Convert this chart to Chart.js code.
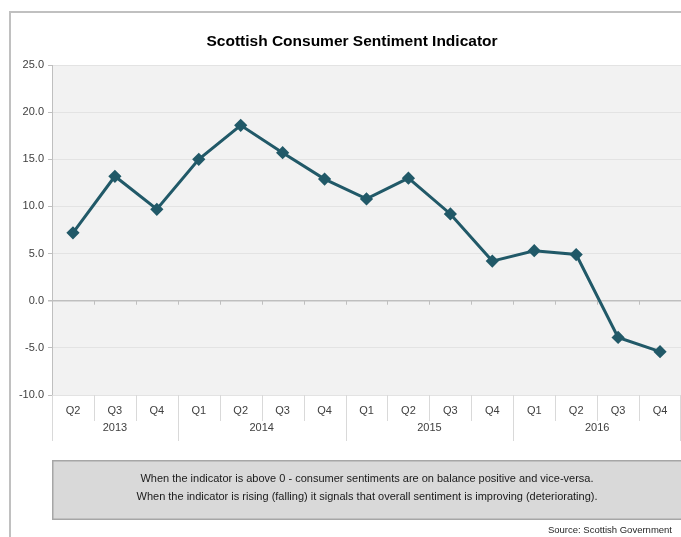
<!DOCTYPE html>
<html>
<head>
<meta charset="utf-8">
<script src="https://cdn.jsdelivr.net/npm/chart.js@4/dist/chart.umd.min.js"></script>
<style>
  html, body { margin: 0; padding: 0; background: #fff; }
  canvas { display: block; }
</style>
</head>
<body>
<canvas id="sentimentChart" width="681" height="537"></canvas>
<script>
// datos del gráfico
const quarters = ["Q2", "Q3", "Q4", "Q1", "Q2", "Q3", "Q4", "Q1", "Q2", "Q3", "Q4", "Q1", "Q2", "Q3", "Q4"];
const years = ["2013", "2014", "2015", "2016"];
const quartersPerYear = [3, 4, 4, 4];
const sentiment = [7.2, 13.2, 9.7, 15.0, 18.6, 15.7, 12.9, 10.8, 13.0, 9.2, 4.2, 5.3, 4.9, -3.9, -5.4];
const titleText = "Scottish Consumer Sentiment Indicator";
const noteLines = [
  "When the indicator is above 0 - consumer sentiments are on balance positive and vice-versa.",
  "When the indicator is rising (falling) it signals that overall sentiment is improving (deteriorating)."
];
const sourceText = "Source: Scottish Government";

const FONT = "'Liberation Sans', Arial, sans-serif";

// fondo, marco, título y área del gráfico
const framePlugin = {
  id: "frame",
  beforeDraw(chart) {
    const { ctx, chartArea: a } = chart;
    ctx.save();
    ctx.fillStyle = "#ffffff";
    ctx.fillRect(0, 0, chart.width, chart.height);
    ctx.strokeStyle = "#c0c0c0";
    ctx.lineWidth = 2;
    ctx.beginPath();
    ctx.moveTo(10, chart.height);
    ctx.lineTo(10, 12);
    ctx.lineTo(chart.width, 12);
    ctx.stroke();
    ctx.fillStyle = "#f2f2f2";
    ctx.fillRect(a.left, a.top, a.width, a.height);
    // título
    ctx.fillStyle = "#000000";
    ctx.font = "bold 15.5px " + FONT;
    ctx.textAlign = "center";
    ctx.textBaseline = "middle";
    ctx.fillText(titleText, 352, 42);
    ctx.restore();
  },
  beforeDatasetsDraw(chart) {
    // marcas pequeñas bajo la línea del cero
    const { ctx, scales } = chart;
    const x = scales.x, y0 = scales.y.getPixelForValue(0);
    ctx.save();
    ctx.strokeStyle = "#bfbfbf";
    ctx.lineWidth = 1;
    for (let i = 1; i < quarters.length; i++) {
      const px = Math.round((x.getPixelForValue(i) + x.getPixelForValue(i - 1)) / 2) + 0.5;
      ctx.beginPath();
      ctx.moveTo(px, y0);
      ctx.lineTo(px, y0 + 4);
      ctx.stroke();
    }
    ctx.restore();
  },
  afterDraw(chart) {
    const { ctx, chartArea: a, scales } = chart;
    const x = scales.x;
    ctx.save();
    // separadores de trimestres y años
    ctx.strokeStyle = "#d9d9d9";
    ctx.lineWidth = 1;
    const starts = [];
    let s = 0;
    quartersPerYear.forEach((n) => { starts.push(s); s += n; });
    for (let i = 0; i <= quarters.length; i++) {
      let px;
      if (i === 0) px = a.left;
      else if (i === quarters.length) px = a.right - 1;
      else px = (x.getPixelForValue(i) + x.getPixelForValue(i - 1)) / 2;
      px = Math.round(px) + 0.5;
      const isYear = i === 0 || i === quarters.length || starts.includes(i);
      ctx.beginPath();
      ctx.moveTo(px, a.bottom);
      ctx.lineTo(px, a.bottom + (isYear ? 46 : 26));
      ctx.stroke();
    }
    // etiquetas de año
    ctx.fillStyle = "#404040";
    ctx.font = "11px " + FONT;
    ctx.textAlign = "center";
    ctx.textBaseline = "middle";
    years.forEach((yr, k) => {
      const first = starts[k], last = starts[k] + quartersPerYear[k] - 1;
      const cx = (x.getPixelForValue(first) + x.getPixelForValue(last)) / 2;
      ctx.fillText(yr, cx, a.bottom + 33);
    });
    // recuadro de nota
    const boxTop = 460, boxH = 60;
    ctx.fillStyle = "#d9d9d9";
    ctx.fillRect(a.left, boxTop, chart.width - a.left, boxH);
    ctx.strokeStyle = "#a6a6a6";
    ctx.lineWidth = 1.5;
    ctx.strokeRect(a.left + 0.75, boxTop + 0.75, chart.width - a.left + 2, boxH - 1.5);
    ctx.fillStyle = "#1a1a1a";
    ctx.font = "11px " + FONT;
    const cxBox = 367;
    ctx.fillText(noteLines[0], cxBox, boxTop + 19);
    ctx.fillText(noteLines[1], cxBox, boxTop + 37);
    // fuente
    ctx.textAlign = "right";
    ctx.font = "9.5px " + FONT;
    ctx.fillStyle = "#262626";
    ctx.fillText(sourceText, 672, 530);
    ctx.restore();
  }
};

const ctx = document.getElementById("sentimentChart").getContext("2d");
new Chart(ctx, {
  type: "line",
  data: {
    labels: quarters,
    datasets: [
      {
        label: titleText,
        data: sentiment,
        borderColor: "#215968",
        backgroundColor: "#215968",
        borderWidth: 3,
        pointStyle: "rectRot",
        pointRadius: 4.5,
        pointHoverRadius: 4.5,
        tension: 0,
      },
    ],
  },
  options: {
    responsive: false,
    animation: false,
    layout: { autoPadding: false, padding: { left: 0, right: 0, top: 65, bottom: 92 } },
    plugins: {
      legend: { display: false },
      tooltip: { enabled: false },
      title: { display: false },
    },
    scales: {
      x: {
        offset: true,
        grid: { display: false, drawTicks: false },
        border: { display: false },
        ticks: {
          color: "#404040",
          font: { family: FONT, size: 11 },
          padding: 9,
          maxRotation: 0,
          autoSkip: false,
        },
        afterFit: (scale) => { scale.height = 50; },
      },
      y: {
        min: -10,
        max: 25,
        grid: {
          color: (c) => (c.tick && c.tick.value === 0 ? "#bfbfbf" : "#e3e3e3"),
          lineWidth: (c) => (c.tick && c.tick.value === 0 ? 1.5 : 1),
          tickLength: 4,
          tickColor: "#bfbfbf",
        },
        border: { display: true, color: "#bfbfbf", width: 1 },
        ticks: {
          stepSize: 5,
          color: "#404040",
          font: { family: FONT, size: 11 },
          padding: 4,
          callback: (v) => v.toFixed(1),
        },
        afterFit: (scale) => { scale.width = 52; },
      },
    },
  },
  plugins: [framePlugin],
});
</script>
</body>
</html>
